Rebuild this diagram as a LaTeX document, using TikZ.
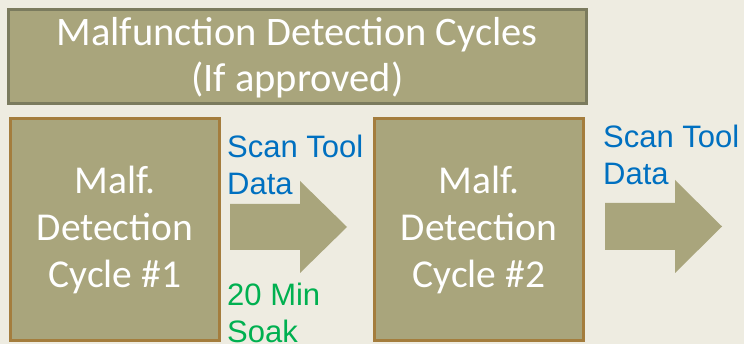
\documentclass[tikz,border=0pt]{standalone}
\usepackage{fontspec}
\setmainfont{Carlito}
\newfontfamily\arialfont{Liberation Sans}
\usetikzlibrary{positioning}
\definecolor{bgtan}{HTML}{EEECE1}
\definecolor{olivefill}{HTML}{A9A57C}
\definecolor{oliveline}{HTML}{7B7B5E}
\definecolor{brownline}{HTML}{A47D3D}
\definecolor{scanblue}{HTML}{0070C0}
\definecolor{soakgreen}{HTML}{00B050}

\begin{document}
\begin{tikzpicture}[x=1pt,y=-1pt,
    titlebox/.style={draw=oliveline,line width=3pt,fill=olivefill,
        minimum width=577.5pt,minimum height=94.5pt,inner sep=0pt},
    titletext/.style={anchor=base,text=white,align=center,inner sep=0pt,font=\fontsize{40.5}{46}\selectfont},
    cyclebox/.style={draw=brownline,line width=3.5pt,fill=olivefill,text=white,align=center,
        minimum width=209pt,minimum height=222pt,inner sep=0pt,font=\fontsize{39.5}{47}\selectfont},
    note/.style={anchor=base west,inner sep=0pt,align=left,font=\arialfont\fontsize{31}{37}\selectfont}]
        \fill[bgtan] (0,0) rectangle (744,344);
        \useasboundingbox (0,0) rectangle (744,344);
        \node[titlebox] (title) at (297.25,56.75) {};
        \node[titletext] (titlelbl) at (297.25,92) {Malfunction Detection Cycles\\(If approved)};
        \node[cyclebox] (cycA) at (115,229.5) {Malf.\\Detection\\Cycle \#1};
        \node[cyclebox] (cycB) at (479,229.5) {Malf.\\Detection\\Cycle \#2};
        \coordinate (arrA) at (230,227);
        \coordinate (arrB) at (605,226.5);
        \fill[olivefill] (arrA) ++(0,-23) -- ++(70,0) -- ++(0,-23) -- ++(47,46) -- ++(-47,46) -- ++(0,-23) -- ++(-70,0) -- cycle;
        \fill[olivefill] (arrB) ++(0,-23.5) -- ++(70,0) -- ++(0,-23) -- ++(47,46.5) -- ++(-47,46.5) -- ++(0,-23) -- ++(-70,0) -- cycle;
        \node[note,text=scanblue] (scanA) at (227,195) {Scan Tool\\Data};
        \node[note,text=soakgreen] (soak) at (227,343) {20 Min\\Soak};
        \node[note,text=scanblue] (scanB) at (603,185) {Scan Tool\\Data};
\end{tikzpicture}
\end{document}
